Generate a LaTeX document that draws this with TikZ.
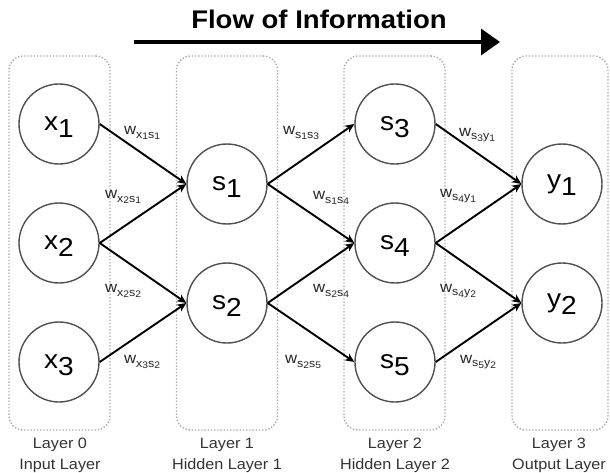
\documentclass[tikz,border=0pt]{standalone}
\usepackage{fontspec}
\setmainfont{Liberation Sans}[FakeStretch=1.08]
\usetikzlibrary{arrows.meta}

\definecolor{ringgray}{HTML}{505050}
\definecolor{boxgray}{HTML}{A8A8A8}
\definecolor{labelgray}{HTML}{333333}

% unit name with a lowered index, e.g. x_1 (index kept out of the node's size)
\newcommand\unitlab[2]{#1\raisebox{-7pt}[0pt][0pt]{#2}}
% connection weight w_{a_i b_j}
\newcommand\wtlab[4]{w\raisebox{-3.5pt}{\fontsize{11.5}{11.5}\selectfont #1\raisebox{-1.5pt}{\fontsize{9.5}{9.5}\selectfont #2}#3\raisebox{-1.5pt}{\fontsize{9.5}{9.5}\selectfont #4}}}

\begin{document}
\begin{tikzpicture}[x=1pt,y=-1pt,
  layerbox/.style={draw=boxgray, line width=1.4pt, dash pattern=on 1.3pt off 1.9pt,
    rounded corners=14pt, minimum width=101pt, minimum height=374pt, inner sep=0pt},
  unit/.style={circle, draw=ringgray, line width=1.4pt, fill=white, minimum size=80pt,
    inner sep=0pt, font=\fontsize{26}{26}\selectfont},
  link/.style={line width=1.9pt, -{Stealth[length=9pt,width=8pt,inset=2.5pt]}},
  weight/.style={font=\fontsize{15.5}{15.5}\selectfont, text=black!85, inner sep=0pt},
  layerlabel/.style={align=center, font=\fontsize{15}{21}\selectfont, text=labelgray, inner sep=0pt},
  flowarrow/.style={line width=3.5pt, -{Triangle[length=19pt,width=26pt]}},
]
\useasboundingbox (0,0) rectangle (610,473);

% heading and direction arrow
\node[font=\fontsize{25.5}{25.5}\selectfont\bfseries, inner sep=0pt] (title) at (319,19) {Flow of Information};
\coordinate (flowstart) at (134,42);
\coordinate (flowend) at (500,42);
\draw[flowarrow] (flowstart) -- (flowend);

% layer frames
\node[layerbox] (L0) at (59.5,243) {};
\node[layerbox] (L1) at (227,243) {};
\node[layerbox] (L2) at (394.5,243) {};
\node[layerbox, minimum width=96pt] (L3) at (560,243) {};

% layer captions
\node[layerlabel] (C0) at (60,455) {Layer 0\\Input Layer};
\node[layerlabel] (C1) at (227,455) {Layer 1\\Hidden Layer 1};
\node[layerlabel] (C2) at (395,455) {Layer 2\\Hidden Layer 2};
\node[layerlabel] (C3) at (559,455) {Layer 3\\Output Layer};

% units
\node[unit] (x1) at (59,124) {\unitlab{x}{1}};
\node[unit] (x2) at (59,243) {\unitlab{x}{2}};
\node[unit] (x3) at (59,362) {\unitlab{x}{3}};
\node[unit] (s1) at (227,184) {\unitlab{s}{1}};
\node[unit] (s2) at (227,303) {\unitlab{s}{2}};
\node[unit] (s3) at (395,124) {\unitlab{s}{3}};
\node[unit] (s4) at (395,243) {\unitlab{s}{4}};
\node[unit] (s5) at (395,362) {\unitlab{s}{5}};
\node[unit] (y1) at (562,184) {\unitlab{y}{1}};
\node[unit] (y2) at (562,303) {\unitlab{y}{2}};

% connections
\draw[link] (x1.east) -- (s1.west);
\draw[link] (x2.east) -- (s1.west);
\draw[link] (x2.east) -- (s2.west);
\draw[link] (x3.east) -- (s2.west);
\draw[link] (s1.east) -- (s3.west);
\draw[link] (s1.east) -- (s4.west);
\draw[link] (s2.east) -- (s4.west);
\draw[link] (s2.east) -- (s5.west);
\draw[link] (s3.east) -- (y1.west);
\draw[link] (s4.east) -- (y1.west);
\draw[link] (s4.east) -- (y2.west);
\draw[link] (s5.east) -- (y2.west);

% weights
\node[weight] (wx1s1) at (142,133) {\wtlab{x}{1}{s}{1}};
\node[weight] (wx2s1) at (123,197) {\wtlab{x}{2}{s}{1}};
\node[weight] (wx2s2) at (123,291) {\wtlab{x}{2}{s}{2}};
\node[weight] (wx3s2) at (142,362) {\wtlab{x}{3}{s}{2}};
\node[weight] (ws1s3) at (301,133) {\wtlab{s}{1}{s}{3}};
\node[weight] (ws1s4) at (331,198) {\wtlab{s}{1}{s}{4}};
\node[weight] (ws2s4) at (331,291) {\wtlab{s}{2}{s}{4}};
\node[weight] (ws2s5) at (303,362) {\wtlab{s}{2}{s}{5}};
\node[weight] (ws3y1) at (477,135) {\wtlab{s}{3}{y}{1}};
\node[weight] (ws4y1) at (458,196) {\wtlab{s}{4}{y}{1}};
\node[weight] (ws4y2) at (458,291) {\wtlab{s}{4}{y}{2}};
\node[weight] (ws5y2) at (478,362) {\wtlab{s}{5}{y}{2}};
\end{tikzpicture}
\end{document}
